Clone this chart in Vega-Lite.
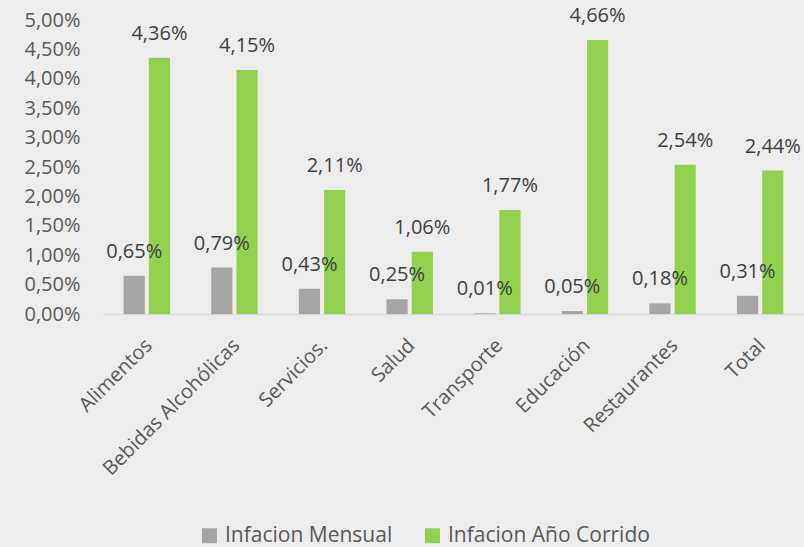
{
  "$schema": "https://vega.github.io/schema/vega-lite/v6.json",
  "autosize": {"type": "none"},
  "padding": {"left": 103, "top": 20, "right": 0, "bottom": 233},
  "width": 701,
  "height": 294,
  "background": "#ededed",
  "config": {
    "view": {"stroke": null},
    "font": "Open Sans",
    "locale": {"number": {"decimal": ",", "thousands": ".", "grouping": [3], "currency": ["$", ""]}}
  },
  "data": {
    "values": [
      {"categoria": "Alimentos", "serie": "Infacion Mensual", "valor": 0.0065},
      {"categoria": "Alimentos", "serie": "Infacion Año Corrido", "valor": 0.0436},
      {"categoria": "Bebidas Alcohólicas", "serie": "Infacion Mensual", "valor": 0.0079},
      {"categoria": "Bebidas Alcohólicas", "serie": "Infacion Año Corrido", "valor": 0.0415},
      {"categoria": "Servicios.", "serie": "Infacion Mensual", "valor": 0.0043},
      {"categoria": "Servicios.", "serie": "Infacion Año Corrido", "valor": 0.0211},
      {"categoria": "Salud", "serie": "Infacion Mensual", "valor": 0.0025},
      {"categoria": "Salud", "serie": "Infacion Año Corrido", "valor": 0.0106},
      {"categoria": "Transporte", "serie": "Infacion Mensual", "valor": 0.0001},
      {"categoria": "Transporte", "serie": "Infacion Año Corrido", "valor": 0.0177},
      {"categoria": "Educación", "serie": "Infacion Mensual", "valor": 0.0005},
      {"categoria": "Educación", "serie": "Infacion Año Corrido", "valor": 0.0466},
      {"categoria": "Restaurantes", "serie": "Infacion Mensual", "valor": 0.0018},
      {"categoria": "Restaurantes", "serie": "Infacion Año Corrido", "valor": 0.0254},
      {"categoria": "Total", "serie": "Infacion Mensual", "valor": 0.0031},
      {"categoria": "Total", "serie": "Infacion Año Corrido", "valor": 0.0244}
    ]
  },
  "encoding": {
    "x": {
      "field": "categoria", "type": "nominal", "sort": null, "title": null,
      "scale": {"paddingInner": 0.47, "paddingOuter": 0.235},
      "axis": {"labelAngle": -45, "labelFontSize": 20, "labelColor": "#595959", "ticks": false,
               "domainColor": "#d9d9d9", "domainWidth": 1.5, "labelPadding": 21, "labelOffset": -5, "labelLimit": 300}
    },
    "xOffset": {"field": "serie", "type": "nominal", "sort": ["Infacion Mensual", "Infacion Año Corrido"],
                "scale": {"paddingInner": 0.16, "paddingOuter": 0}},
    "y": {
      "field": "valor", "type": "quantitative", "title": null,
      "scale": {"domain": [0, 0.05], "nice": false},
      "axis": {"format": ".2%", "values": [0, 0.005, 0.01, 0.015, 0.02, 0.025, 0.03, 0.035, 0.04, 0.045, 0.05],
               "labelOverlap": false, "labelFlush": false,
               "grid": false, "domain": false, "ticks": false, "labelFontSize": 20, "labelColor": "#595959", "labelPadding": 23}
    }
  },
  "layer": [
    {
      "mark": {"type": "bar"},
      "encoding": {
        "color": {
          "field": "serie", "type": "nominal", "sort": ["Infacion Mensual", "Infacion Año Corrido"],
          "scale": {"domain": ["Infacion Mensual", "Infacion Año Corrido"], "range": ["#a5a5a5", "#92d050"]},
          "legend": {"title": null, "orient": "none", "direction": "horizontal", "legendX": 96, "legendY": 505,
                     "symbolType": "square", "symbolSize": 225, "symbolStrokeWidth": 0, "labelFontSize": 21,
                     "labelColor": "#595959", "columnPadding": 29, "labelOffset": 5, "labelLimit": 400}
        }
      }
    },
    {
      "mark": {"type": "text", "dy": -24, "fontSize": 20, "color": "#404040"},
      "encoding": {"text": {"field": "valor", "type": "quantitative", "format": ".2%"}}
    }
  ]
}
